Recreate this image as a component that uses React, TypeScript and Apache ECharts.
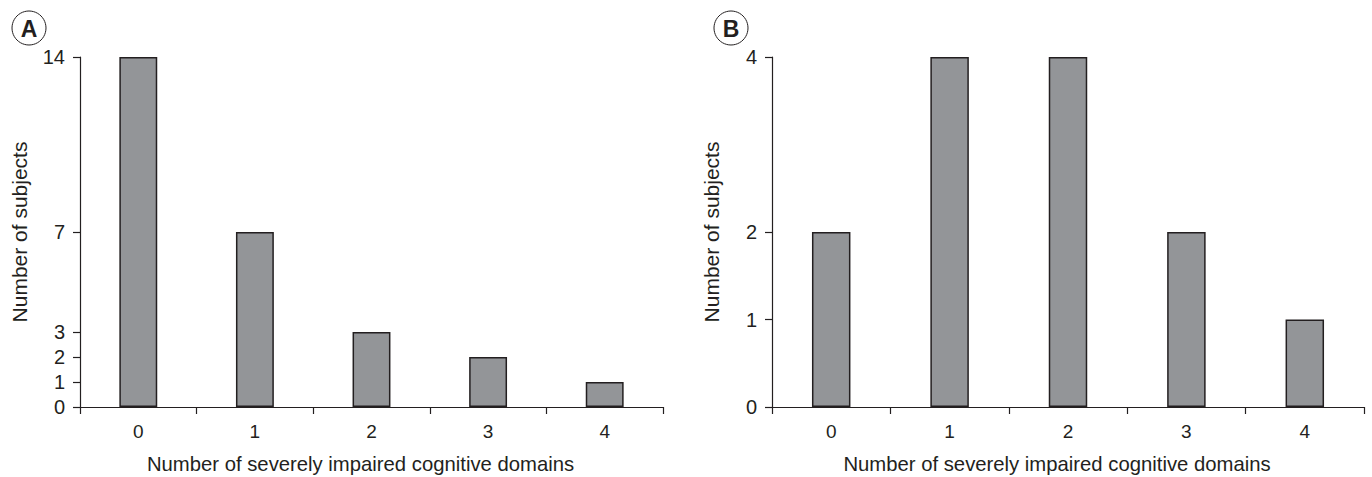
import React, { useEffect, useRef } from "react";
import * as echarts from "echarts";

const categories = ["0", "1", "2", "3", "4"];
const valuesA = [14, 7, 3, 2, 1];
const valuesB = [2, 4, 4, 2, 1];
const ticksA = [0, 1, 2, 3, 7, 14];
const ticksB = [0, 1, 2, 4];
const xTitle = "Number of severely impaired cognitive domains";
const yTitle = "Number of subjects";
const panelLabels = ["A", "B"];

const FONT = "Liberation Sans, Arial, Helvetica, sans-serif";
const INK = "#231f20";
const BAR = "#939598";

export default function App() {
  const ref = useRef<HTMLDivElement>(null);
  useEffect(() => {
    if (!ref.current) return;
    const chart = echarts.init(ref.current, undefined, { renderer: "svg" });
    const grids = [
      { left: 80, top: 57, width: 583, height: 350, outerBoundsMode: "none", containLabel: false },
      { left: 772, top: 57, width: 592, height: 350, outerBoundsMode: "none", containLabel: false },
    ];
    const maxes = [14, 4];
    const ticks = [ticksA, ticksB];
    const mkX = (i: number) => ({
      type: "category",
      gridIndex: i,
      data: categories,
      boundaryGap: true,
      axisLine: { lineStyle: { color: INK, width: 1.2 } },
      axisTick: { show: true, length: 7, lineStyle: { color: INK, width: 1.2 } },
      axisLabel: { color: INK, fontSize: 19, fontFamily: FONT, margin: 15 },
      name: xTitle,
      nameLocation: "middle",
      nameGap: 47,
      nameTextStyle: { color: INK, fontSize: 20.3, fontFamily: FONT, padding: [0, 22, 0, 0] },
      splitLine: { show: false },
    });
    const mkY = (i: number) => ({
      type: "value",
      gridIndex: i,
      min: 0,
      max: maxes[i],
      interval: 1,
      axisLine: { show: true, lineStyle: { color: INK, width: 1.2 } },
      axisTick: { show: true, length: 7, lineStyle: { color: INK, width: 1.2 }, customValues: ticks[i] },
      axisLabel: { color: INK, fontSize: 20, fontFamily: FONT, margin: 15, customValues: ticks[i] },
      splitLine: { show: false },
      name: yTitle,
      nameLocation: "middle",
      nameGap: 50,
      nameTextStyle: { color: INK, fontSize: 21, fontFamily: FONT },
    });
    const mkSeries = (i: number, data: number[]) => ({
      type: "bar",
      xAxisIndex: i,
      yAxisIndex: i,
      data,
      barWidth: "32.5%",
      itemStyle: { color: BAR, borderColor: INK, borderWidth: 1.5 },
    });
    const centers = [[29, 28], [731, 28]];
    chart.setOption({
      animation: false,
      backgroundColor: "#ffffff",
      grid: grids,
      xAxis: [mkX(0), mkX(1)],
      yAxis: [mkY(0), mkY(1)],
      series: [mkSeries(0, valuesA), mkSeries(1, valuesB)],
      graphic: panelLabels.flatMap((lab, i) => [
        {
          type: "circle",
          shape: { cx: centers[i][0], cy: centers[i][1], r: 17 },
          style: { fill: "#fff", stroke: INK, lineWidth: 1 },
        },
        {
          type: "text",
          x: centers[i][0],
          y: centers[i][1] + 1,
          style: {
            text: lab,
            fill: INK,
            font: `bold 23px ${FONT}`,
            textAlign: "center",
            textVerticalAlign: "middle",
          },
        },
      ]),
    });
    return () => chart.dispose();
  }, []);
  return (
    <div
      ref={ref}
      style={{ position: "fixed", left: 0, top: 0, width: 1372, height: 477, background: "#fff" }}
    />
  );
}
